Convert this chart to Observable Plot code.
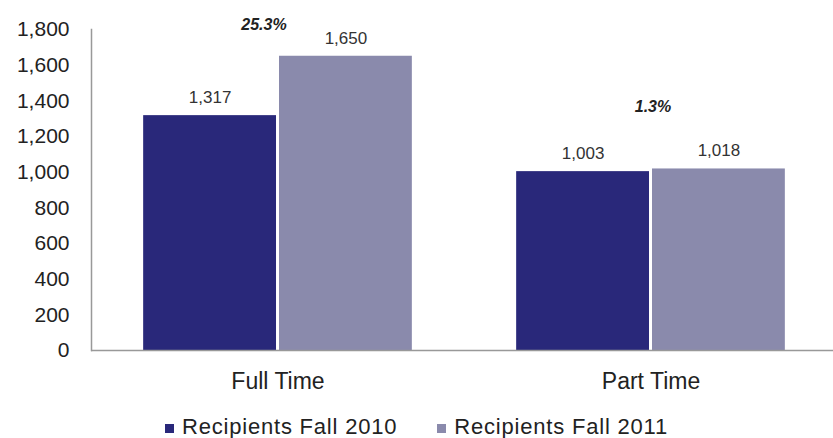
<!DOCTYPE html>
<html><head><meta charset="utf-8">
<script src="https://cdn.jsdelivr.net/npm/d3@7"></script>
<script src="https://cdn.jsdelivr.net/npm/@observablehq/plot@0.6"></script>
<style>
body{margin:0;background:#fff;font-family:"Liberation Sans",Arial,sans-serif;overflow:hidden;}
#legend{display:flex;justify-content:center;gap:40px;height:33px;box-sizing:border-box;padding-top:11px;line-height:22px;font-size:22px;color:#222;letter-spacing:0.8px;}
.item{display:flex;align-items:center;}
.sw{width:9px;height:9px;margin-right:8px;margin-top:3px;}
</style></head><body>
<div id="chart"></div>
<div id="legend"></div>
<script>
const categories = ["Full Time", "Part Time"];
const series = ["Recipients Fall 2010", "Recipients Fall 2011"];
const values2010 = [1317, 1003];
const values2011 = [1650, 1018];
const pctChange = ["25.3%", "1.3%"];
const yTicks = [0, 200, 400, 600, 800, 1000, 1200, 1400, 1600, 1800];
const colors = ["#29287a", "#8a8aac"];

const data = categories.flatMap((c, i) => [
  {category: c, series: series[0], value: values2010[i]},
  {category: c, series: series[1], value: values2011[i]}
]);
const pct = categories.map((c, i) => ({category: c, label: pctChange[i], top: Math.max(values2010[i], values2011[i])}));
const fmt = d3.format(",");

const chart = Plot.plot({
  width: 833, height: 405,
  marginLeft: 90, marginRight: -4, marginTop: 29, marginBottom: 55,
  style: {fontFamily: "Liberation Sans, Arial, sans-serif", background: "#fff", overflow: "hidden"},
  fx: {domain: categories, padding: 0, label: null},
  x: {domain: series, axis: null, paddingInner: 0.022, paddingOuter: 0.384, round: false},
  y: {domain: [0, 1800]},
  color: {domain: series, range: colors},
  marks: [
    Plot.barY(data, {fx: "category", x: "series", y: "value", fill: "series"}),
    Plot.ruleY([0], {stroke: "#999", strokeWidth: 1.5}),
    Plot.frame({anchor: "left", facetAnchor: "left", stroke: "#999", strokeWidth: 1.5}),
    Plot.axisY({ticks: yTicks, tickFormat: fmt, tickSize: 0, tickPadding: 22, fontSize: 21, fill: "#222", label: null}),
    Plot.axisFx({anchor: "bottom", tickSize: 0, tickPadding: 22, fontSize: 23, fill: "#222", label: null}),
    Plot.text(data, {fx: "category", x: "series", y: "value", text: d => fmt(d.value), dy: -18, fontSize: 17, fill: "#333"}),
    Plot.text(pct.filter(d => d.category === "Full Time"), {fx: "category", y: "top", text: "label", frameAnchor: "middle", dx: -14, dy: -31, fontSize: 16, fontWeight: "bold", fontStyle: "italic", fill: "#222"}),
    Plot.text(pct.filter(d => d.category === "Part Time"), {fx: "category", y: "top", text: "label", frameAnchor: "middle", dx: 2, dy: -62, fontSize: 16, fontWeight: "bold", fontStyle: "italic", fill: "#222"})
  ]
});
document.getElementById("chart").append(chart);

const legend = document.getElementById("legend");
series.forEach((s, i) => {
  const item = document.createElement("div");
  item.className = "item";
  const sw = document.createElement("span");
  sw.className = "sw";
  sw.style.background = colors[i];
  const t = document.createElement("span");
  t.textContent = s;
  item.append(sw, t);
  legend.append(item);
});
</script>
</body></html>
